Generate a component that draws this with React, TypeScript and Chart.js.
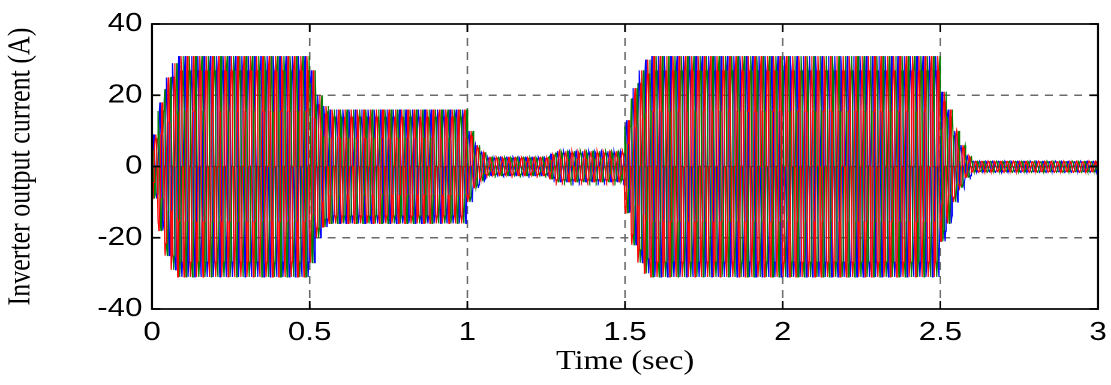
import React, { useEffect, useRef } from "react";
import { Chart, registerables } from "chart.js";

Chart.register(...registerables);

// ---- data ----
const X_MIN = 0;
const X_MAX = 3;
const X_STEP = 0.5;
const Y_MIN = -40;
const Y_MAX = 40;
const Y_STEP = 20;
const X_TITLE = "Time (sec)";
const Y_TITLE = "Inverter output current (A)";

// one 50 Hz cycle lasts 0.02 s (25 cycles counted in each 0.5 s)
const CYCLE_SECONDS = 0.02;
// normalised shape of one cycle, 12 samples
const CYCLE_SHAPE = [0, 0.5, 0.866, 1, 0.866, 0.5, 0, -0.5, -0.866, -1, -0.866, -0.5];
// peak current (A) per run of cycles
const ENV_AMPS = [9, 18, 25, 29, 31, 27, 20, 17, 16, 10, 6, 4, 2.6, 3.5, 4.3, 13, 22, 27, 30, 31, 21, 16, 10, 6, 3, 1.5];
const ENV_CYCLES = [1, 1, 1, 1, 21, 1, 1, 1, 22, 1, 1, 1, 10, 1, 11, 1, 1, 1, 1, 46, 1, 1, 1, 1, 1, 20];
// three phases, 120 degrees apart (in samples of CYCLE_SHAPE)
const PHASE_LABELS = ["Phase C", "Phase B", "Phase A"];
const PHASE_SHIFTS = [8, 4, 0];
const PHASE_COLORS = ["#ff0000", "#008000", "#0000ff"];

// ---- layout ----
const OUT_W = 1111;
const OUT_H = 385;
const IN_W = 926;
const SX = OUT_W / IN_W;

function buildPhase(shift: number) {
  const perCycle: number[] = [];
  ENV_AMPS.forEach((a, i) => {
    for (let c = 0; c < ENV_CYCLES[i]; c++) perCycle.push(a);
  });
  const n = CYCLE_SHAPE.length;
  const dt = CYCLE_SECONDS / n;
  const pts: { x: number; y: number }[] = [];
  const total = perCycle.length * n;
  for (let k = 0; k <= total; k++) {
    const cyc = Math.min(Math.floor(k / n), perCycle.length - 1);
    pts.push({ x: k * dt, y: perCycle[cyc] * CYCLE_SHAPE[(k + shift) % n] });
  }
  return pts;
}

const framePlugin = {
  id: "matlabFrame",
  beforeDatasetsDraw(chart: any) {
    const { ctx, chartArea: a, scales } = chart;
    const xs = scales.x;
    const ys = scales.y;
    ctx.save();
    ctx.lineWidth = 1.3;
    ctx.strokeStyle = "#6a6a6a";
    ctx.setLineDash([8, 6]);
    for (let v = X_MIN + X_STEP; v < X_MAX - 1e-9; v += X_STEP) {
      const px = xs.getPixelForValue(v);
      ctx.beginPath();
      ctx.moveTo(px, a.top);
      ctx.lineTo(px, a.bottom);
      ctx.stroke();
    }
    ctx.lineWidth = 1.6;
    for (let v = Y_MIN + Y_STEP; v < Y_MAX - 1e-9; v += Y_STEP) {
      const py = ys.getPixelForValue(v);
      const zero = Math.abs(v) < 1e-9;
      ctx.strokeStyle = zero ? "#222222" : "#6a6a6a";
      ctx.setLineDash(zero ? [2.5, 2.5] : [6.6, 5.6]);
      ctx.beginPath();
      ctx.moveTo(a.left, py);
      ctx.lineTo(a.right, py);
      ctx.stroke();
    }
    ctx.restore();
  },
  afterDatasetsDraw(chart: any) {
    const { ctx, chartArea: a, scales } = chart;
    const xs = scales.x;
    const ys = scales.y;
    ctx.save();
    ctx.setLineDash([]);
    ctx.strokeStyle = "#000";
    ctx.lineWidth = 1.7;
    ctx.strokeRect(a.left, a.top, a.right - a.left, a.bottom - a.top);
    ctx.lineWidth = 1.4;
    for (let v = X_MIN; v <= X_MAX + 1e-9; v += X_STEP) {
      const px = xs.getPixelForValue(v);
      ctx.beginPath();
      ctx.moveTo(px, a.bottom);
      ctx.lineTo(px, a.bottom - 8);
      ctx.moveTo(px, a.top);
      ctx.lineTo(px, a.top + 8);
      ctx.stroke();
    }
    ctx.lineWidth = 1.7;
    for (let v = Y_MIN; v <= Y_MAX + 1e-9; v += Y_STEP) {
      const py = ys.getPixelForValue(v);
      ctx.beginPath();
      ctx.moveTo(a.left, py);
      ctx.lineTo(a.left + 7, py);
      ctx.moveTo(a.right, py);
      ctx.lineTo(a.right - 7, py);
      ctx.stroke();
    }
    ctx.restore();
  },
};

export default function App() {
  const ref = useRef<HTMLCanvasElement | null>(null);

  useEffect(() => {
    document.body.style.margin = "0";
    const canvas = ref.current;
    if (!canvas) return;
    const datasets = PHASE_SHIFTS.map((s, i) => ({
      label: PHASE_LABELS[i],
      data: buildPhase(s),
      borderColor: PHASE_COLORS[i],
      backgroundColor: PHASE_COLORS[i],
      borderWidth: 1.0,
      pointRadius: 0,
      tension: 0,
      fill: false,
    }));
    const tickFont = { family: "'Liberation Sans', Arial, sans-serif", size: 26 };
    const fmt = (v: any) => String(Number(v));
    const chart = new Chart(canvas, {
      type: "line",
      data: { datasets },
      options: {
        animation: false,
        responsive: false,
        devicePixelRatio: 2,
        parsing: false,
        normalized: true,
        events: [],
        layout: { padding: { left: 0, right: 10.8, top: 24, bottom: 0 } },
        plugins: { legend: { display: false }, tooltip: { enabled: false } },
        scales: {
          x: {
            type: "linear",
            min: X_MIN,
            max: X_MAX,
            grid: { display: false, drawTicks: false },
            border: { display: false },
            ticks: { stepSize: X_STEP, color: "#000", font: tickFont, padding: 8, maxRotation: 0, callback: fmt },
            title: {
              display: true,
              text: X_TITLE,
              color: "#000",
              font: { family: "'Liberation Serif', 'Times New Roman', serif", size: 27 },
              padding: { top: 0, bottom: 7 },
            },
            afterFit: (s: any) => {
              s.height = 76;
              s.paddingLeft = 0;
              s.paddingRight = 0;
            },
          },
          y: {
            type: "linear",
            min: Y_MIN,
            max: Y_MAX,
            grid: { display: false, drawTicks: false },
            border: { display: false },
            ticks: { stepSize: Y_STEP, color: "#000", font: tickFont, padding: 8, callback: fmt },
            title: {
              display: true,
              text: Y_TITLE,
              color: "#000",
              font: { family: "'Liberation Serif', 'Times New Roman', serif", size: 26 },
              padding: { top: 2, bottom: 0 },
            },
            afterFit: (s: any) => {
              s.width = 126.7;
              s.paddingTop = 0;
              s.paddingBottom = 0;
            },
          },
        },
      },
      plugins: [framePlugin],
    } as any);
    return () => chart.destroy();
  }, []);

  return (
    <div style={{ position: "fixed", left: 0, top: 0, width: OUT_W, height: OUT_H, overflow: "hidden", background: "#fff" }}>
      <div style={{ width: IN_W, height: OUT_H, transform: `scaleX(${SX})`, transformOrigin: "0 0" }}>
        <canvas ref={ref} width={IN_W} height={OUT_H} style={{ width: IN_W + "px", height: OUT_H + "px", display: "block" }} />
      </div>
    </div>
  );
}
